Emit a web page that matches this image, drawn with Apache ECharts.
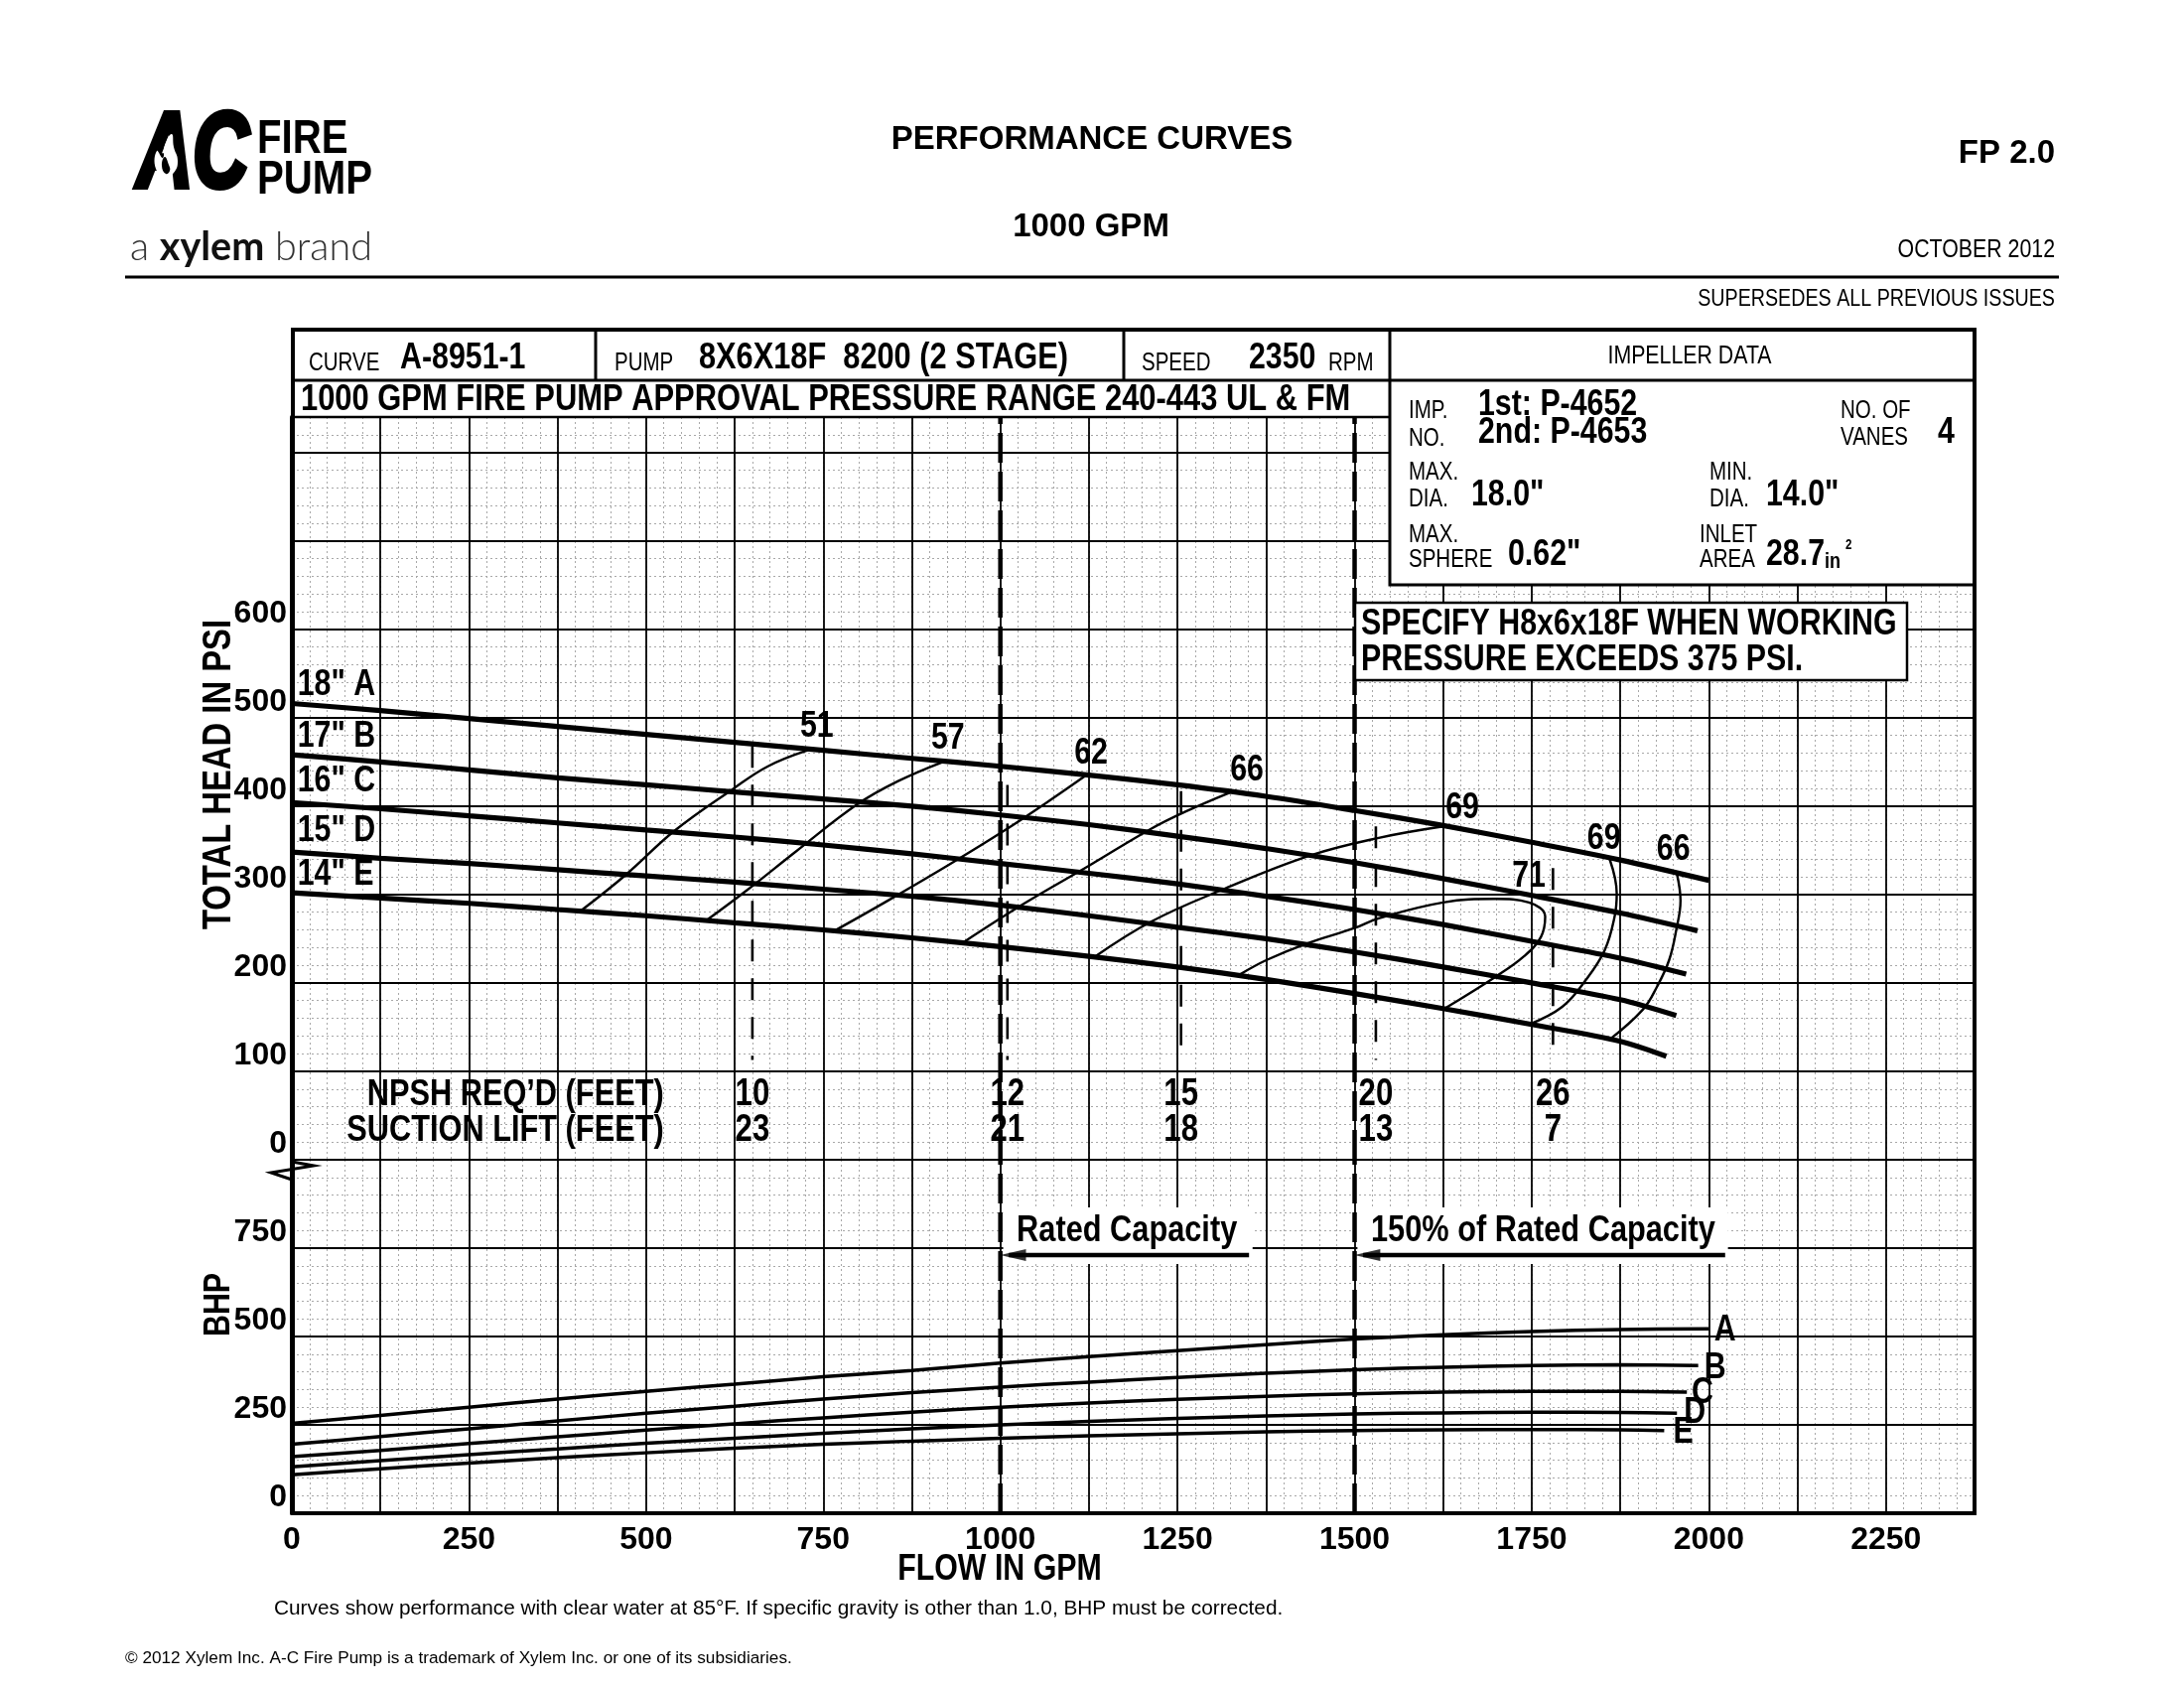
<!DOCTYPE html>
<html><head><meta charset="utf-8">
<script src="https://cdn.jsdelivr.net/npm/echarts@6/dist/echarts.min.js"></script>
<style>html,body{margin:0;padding:0;background:#fff}#c{width:2200px;height:1700px}</style>
</head><body><div id="c"></div>
<script>
const SANS = "'Liberation Sans',Arial,Helvetica,sans-serif";
const NARROW_SCALE = 0.82;

// ---------- data ----------
const flow = [0,125,250,375,500,625,750,875,1000,1125,1250,1375,1500,1625,1750,1875];
const headEndFlow = [2000,1984,1968,1954,1940];
const headA = [516,508,499,490,481,472,463,454,445,435,424,411,395,378,359,339,316];
const headB = [458,450,441,432,424,416,408,400,390,379,366,352,336,318,299,279,259];
const headC = [404,397,389,381,373,365,356,346,335,324,312,298,283,266,247,228,210];
const headD = [348,341,335,328,321,314,306,298,288,276,263,250,235,218,200,181,163];
const headE = [302,296,290,283,276,268,260,251,241,230,218,204,188,171,153,134,117];

const bhpEndFlow = [2000,1985,1969,1955,1937];
const bhpA = [254,277,300,323,345,365,386,404,425,443,460,477,493,505,514,520,522];
const bhpB = [195,217,239,261,283,303,323,341,357,371,384,396,406,413,418,420,418];
const bhpC = [160,178,197,216,235,253,270,286,300,312,322,331,338,343,345,345,343];
const bhpD = [131,149,166,182,198,212,226,239,250,260,268,275,281,284,286,285,283];
const bhpE = [109,126,142,157,171,184,195,204,212,219,225,230,234,236,237,236,234];

// iso-efficiency curves [flow, head]
const eff51 = [[407,281],[471,322],[540,372],[622,419],[672,445],[728,463]];
const eff57 = [[584,270],[641,304],[712,349],[798,402],[855,428],[919,450]];
const eff62 = [[766,259],[841,293],[926,333],[1005,372],[1069,406],[1123,436]];
const eff66 = [[948,246],[1034,290],[1126,333],[1212,374],[1262,394],[1326,416]];
const eff69a = [[1134,230],[1212,269],[1312,305],[1437,344],[1534,364],[1625,377]];
const eff71 = [[1337,209],[1376,226],[1434,245],[1500,262],[1534,273],[1625,291],[1699,295],[1746,291],[1769,275],[1763,252],[1739,230],[1699,207],[1627,171]];
const eff69b = [[1860,340],[1870,301],[1867,275],[1853,237],[1826,203],[1793,173],[1746,153]];
const eff66b = [[1955,323],[1960,293],[1954,260],[1944,226],[1927,196],[1907,170],[1860,136]];

const effLabels = [['51',741,490],['57',926,476],['62',1128,459],['66',1348,441],['69',1652,398],['71',1746,320],['69',1852,363],['66',1950,351]];
const curveNames = ['18" A','17" B','16" C','15" D','14" E'];
const curveNameHead = [537,479,428,372,322];

const npshFlow = [650,1010,1255,1530,1780];
const npshTop = [468,424,417,377,330];
const npshBottom = 113;
const npshReq = ['10','12','15','20','26'];
const suctionLift = ['23','21','18','13','7'];

const ratedFlow = [1000,1500];
const ratedText = ['Rated Capacity','150% of Rated Capacity'];
const ratedTextFlow = [1023,1523];
const arrowTailFlow = [1351,2023];
const maskFlow = [[1004,1356],[1504,2027]];

const bhpLetters = ['A','B','C','D','E'];
const bhpLetterFlow = [2023,2009,1991,1980,1964];
const bhpLetterVal = [518,412,340,284,228];

const xTicks = ['0','250','500','750','1000','1250','1500','1750','2000','2250'];
const headTicks = ['0','100','200','300','400','500','600'];
const bhpTicks = ['0','250','500','750'];

// ---------- chart ----------
const chart = echarts.init(document.getElementById('c'), null, {renderer:'canvas'});
const pairs = (vals, end) => vals.map((v,i) => [i < flow.length ? flow[i] : end, v]);

function xAx(grid, major, labels){
  return {type:'value', gridIndex:grid, position:'bottom', min:0, max:2375, interval: major?125:25, z: major?1:0,
    axisLine:{show:major, onZero:false, lineStyle:{color:'#000', width: grid===1?4:2}},
    axisTick:{show:false},
    axisLabel:{show:labels, margin:11, color:'#000', fontFamily:SANS, fontWeight:'bold', fontSize:32,
      formatter: v => xTicks.includes(String(v)) ? String(v) : ''},
    splitLine:{show:true, lineStyle: major ? {color:'#000', width:1.8} : {color:'#a8a8a8', width:1, type:[2,3]}}
  };
}
function yAx(grid, major, max, interval, ticks){
  return {type:'value', gridIndex:grid, position:'left', min:0, max, interval, z: major?1:0,
    axisLine:{show:major, onZero:false, lineStyle:{color:'#000', width:4}},
    axisTick:{show:false},
    axisLabel:{show:major, margin:5, color:'#000', fontFamily:SANS, fontWeight:'bold', fontSize:32, verticalAlign:'bottom',
      formatter: v => ticks.includes(String(v)) ? String(v) : ''},
    splitLine:{show:true, lineStyle: major ? {color:'#000', width:1.8} : {color:'#a8a8a8', width:1, type:[2,3]}}
  };
}
function line(data, ax, width, extra){
  return Object.assign({type:'line', xAxisIndex:ax, yAxisIndex:ax, data, symbol:'none', silent:true, z:3,
    smooth:0.3, lineStyle:{color:'#000', width}}, extra||{});
}

const series = [];
[headA,headB,headC,headD,headE].forEach((v,i)=>series.push(line(pairs(v,headEndFlow[i]),1,5.2)));
[eff51,eff57,eff62,eff66,eff69a,eff71,eff69b,eff66b].forEach(c=>series.push(line(c,1,2.4,{smooth:0.4})));
npshFlow.forEach((f,i)=>series.push(line([[f,npshTop[i]],[f,npshBottom]],1,2.6,{smooth:false,lineStyle:{color:'#000',width:2.6,type:[22,17]}})));
[bhpA,bhpB,bhpC,bhpD,bhpE].forEach((v,i)=>series.push(line(pairs(v,bhpEndFlow[i]),3,3.5)));
ratedFlow.forEach(f=>{
  series.push(line([[f,0],[f,840]],1,4.5,{smooth:false,z:4,lineStyle:{color:'#000',width:4.5,type:[30,9]}}));
  series.push(line([[f,0],[f,1000]],3,4.5,{smooth:false,z:4,lineStyle:{color:'#000',width:4.5,type:[30,9]}}));
});
ratedFlow.forEach((f,i)=>series.push(line([[arrowTailFlow[i],730],[f+12,730]],3,4.5,{smooth:false})));
series.push({type:'scatter', xAxisIndex:3, yAxisIndex:3, silent:true, z:5, symbol:'path://M0,5 L24,0 L24,10 Z',
  symbolSize:[26,12], itemStyle:{color:'#000'}, data: ratedFlow.map(f=>[f+18,730])});

// text helper: narrow = Liberation Sans squeezed horizontally
function T(text,x,y,size,o){
  o=o||{};
  const font=(o.italic?'italic ':'')+(o.weight||'bold')+' '+size+'px '+SANS;
  const sx = o.sx!==undefined ? o.sx : (o.wide ? 1 : NARROW_SCALE);
  const style = {text, fill:o.fill||'#000', font, textAlign:o.align||'left', align:o.align||'left',
      textVerticalAlign:o.va||'middle', verticalAlign:o.va||'middle'};
  if (o.stroke) { style.stroke = '#000'; style.lineWidth = o.stroke; }
  return {type:'text', x, y, z:o.z||11, rotation:o.rot||0, scaleX:sx, scaleY:1, style};
}
function L(x1,y1,x2,y2,w){return {type:'line', z:11, shape:{x1,y1,x2,y2}, style:{stroke:'#000', lineWidth:w}};}
function R(x,y,w,h,lw,fill,z){return {type:'rect', z:z||10, shape:{x,y,width:w,height:h}, style:{fill:fill||'none', stroke: lw?'#000':'none', lineWidth:lw||0}};}

const REG = {weight:'normal'};
const g = [
  // logo
  T('AC',138,158,108,{italic:true,weight:'900',sx:0.72,stroke:6}),
  {type:'polygon', z:12, shape:{smooth:0.5, points:[[167,178],[157,170],[158,152],[164,159],[166,146],[173,135],[175,148],[179,162],[175,174]]}, style:{fill:'#fff'}},
  {type:'polygon', z:13, shape:{smooth:0.5, points:[[167,175],[163,167],[166,158],[170,166],[171,172]]}, style:{fill:'#000'}},
  T('FIRE',259,140,49),
  T('PUMP',259,181,49),
  {type:'text', x:131, y:249, z:11, style:{text:'{l|a }{b|xylem}{l| brand}', verticalAlign:'middle', textVerticalAlign:'middle',
    rich:{l:{fontFamily:'Lato, sans-serif', fontWeight:300, fontSize:39.5, fill:'#333'}, b:{fontFamily:'Lato, sans-serif', fontWeight:'bold', fontSize:39.5, fill:'#111'}}}},
  // titles
  T('PERFORMANCE CURVES',1100,141,33,{wide:true,align:'center'}),
  T('1000 GPM',1099,229,33,{wide:true,align:'center'}),
  T('FP 2.0',2070,155,33,{wide:true,align:'right'}),
  T('OCTOBER 2012',2070,252,26,{weight:'normal',align:'right'}),
  L(126,279,2074,279,3),
  T('SUPERSEDES ALL PREVIOUS ISSUES',2070,301,24,{weight:'normal',align:'right'}),
  // frame & header table
  R(295,332,1694,88,0,'#fff',9),
  R(295,332,1694,1192,4,'none',12),
  L(295,383,1989,383,3),
  L(295,420,1400,420,2.5),
  L(600,332,600,383,3),
  L(1132,332,1132,383,3),
  R(1400,332,589,257,3,'#fff',10),
  T('CURVE',311,366,25,REG),
  T('A-8951-1',403,361,37),
  T('PUMP',619,366,25,REG),
  T('8X6X18F  8200 (2 STAGE)',704,361,37.5),
  T('SPEED',1150,366,25,REG),
  T('2350',1258,361,37),
  T('RPM',1338,366,25,REG),
  T('IMPELLER DATA',1702,359,26,{weight:'normal',align:'center'}),
  T('1000 GPM FIRE PUMP APPROVAL PRESSURE RANGE 240-443 UL & FM',303,403,37.7),
  T('IMP.',1419,414,25,REG), T('NO.',1419,442,25,REG),
  T('1st: P-4652',1489,408,37), T('2nd: P-4653',1489,436,37),
  T('NO. OF',1854,414,25,REG), T('VANES',1854,441,25,REG), T('4',1952,436,37),
  T('MAX.',1419,476,25,REG), T('DIA.',1419,503,25,REG), T('18.0"',1482,499,37),
  T('MIN.',1722,476,25,REG), T('DIA.',1722,503,25,REG), T('14.0"',1779,499,37),
  T('MAX.',1419,539,25,REG), T('SPHERE',1419,564,25,REG), T('0.62"',1519,559,37),
  T('INLET',1712,539,25,REG), T('AREA',1712,564,25,REG), T('28.7',1779,559,37),
  T('in',1838,566,22), T('2',1859,549,14),
  // specify box
  R(1365,607,556,78,2.5,'#fff',10),
  T('SPECIFY H8x6x18F WHEN WORKING',1371,629,37),
  T('PRESSURE EXCEEDS 375 PSI.',1371,665,37),
  // axis titles
  T('TOTAL HEAD IN PSI',221,780,40,{align:'center',rot:Math.PI/2}),
  T('BHP',221,1314,37,{align:'center',rot:Math.PI/2}),
  T('FLOW IN GPM',1007,1581,37,{align:'center'}),
  // axis break
  {type:'polyline', z:13, shape:{points:[[294,1170],[316,1174],[273,1181],[294,1188]]}, style:{stroke:'#000',lineWidth:3,fill:'none'}},
  // footer
  T('Curves show performance with clear water at 85\u00B0F. If specific gravity is other than 1.0, BHP must be corrected.',276,1620,20.8,{weight:'normal',wide:true}),
  T('\u00A9 2012 Xylem Inc. A-C Fire Pump is a trademark of Xylem Inc. or one of its subsidiaries.',126,1670,17.2,{weight:'normal',wide:true})
];

const option = {
  animation:false, backgroundColor:'#fff',
  grid:[{left:294,width:1695,top:420,height:748,show:false},{left:294,width:1695,top:1168,height:356,show:false}],
  xAxis:[xAx(0,false,false),xAx(0,true,false),xAx(1,false,false),xAx(1,true,true)],
  yAxis:[yAx(0,false,840,20,[]),yAx(0,true,840,100,headTicks),yAx(1,false,1000,50,[]),yAx(1,true,1000,250,bhpTicks)],
  series, graphic:{elements:g}
};
chart.setOption(option);

// annotations placed through the chart's own axes
const P = (grid, v) => chart.convertToPixel({gridIndex:grid}, v);
const ann = [];
effLabels.forEach(d=>{const p=P(0,[d[1],d[2]]); ann.push(T(d[0],p[0],p[1],37,{align:'center'}));});
curveNames.forEach((n,i)=>{const p=P(0,[8,curveNameHead[i]]); ann.push(T(n,p[0],p[1],37));});
npshFlow.forEach((f,i)=>{
  const p1=P(0,[f,73]), p2=P(0,[f,33]);
  ann.push(T(npshReq[i],p1[0],p1[1],38,{align:'center'}));
  ann.push(T(suctionLift[i],p2[0],p2[1],38,{align:'center'}));
});
[["NPSH REQ\u2019D (FEET)",73],["SUCTION LIFT (FEET)",33]].forEach(d=>{const p=P(0,[525,d[1]]); ann.push(T(d[0],p[0],p[1],37.5,{align:'right'}));});
ratedText.forEach((t,i)=>{const p=P(1,[ratedTextFlow[i],798]); ann.push(T(t,p[0],p[1],37.5));});
bhpLetters.forEach((t,i)=>{const p=P(1,[bhpLetterFlow[i],bhpLetterVal[i]]); ann.push(T(t,p[0],p[1],37,{align:'center'}));});
const masks = maskFlow.map(m=>{
  const p1 = P(1,[m[0],865]), p2 = P(1,[m[1],705]);
  return {type:'rect', z:2, shape:{x:p1[0],y:p1[1],width:p2[0]-p1[0],height:p2[1]-p1[1]}, style:{fill:'#fff'}};
});
chart.setOption({graphic:{elements:g.concat(ann,masks)}});
</script></body></html>
